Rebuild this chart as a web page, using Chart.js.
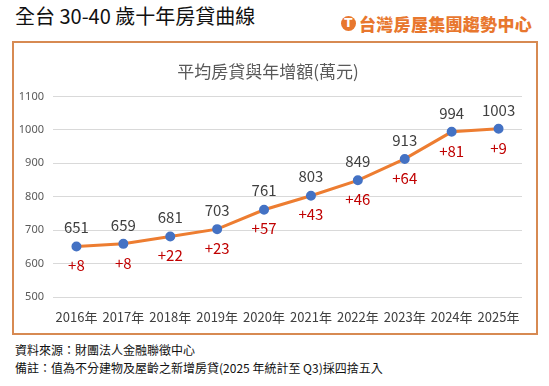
<!DOCTYPE html>
<html>
<head>
<meta charset="utf-8">
<script src="https://cdn.jsdelivr.net/npm/chart.js@4.4.1/dist/chart.umd.min.js"></script>
<style>
    body { margin: 0; background: #fff; font-family: "Noto Sans CJK TC", "Noto Sans", sans-serif; }
    .page { position: relative; width: 549px; height: 386px; overflow: hidden; }
    .title { position: absolute; left: 15px; top: 2px; font-size: 20px; color: #111; line-height: 28px; }
    .logo { position: absolute; left: 341px; top: 12px; height: 22px; display: flex; align-items: center; color: #E8772E; font-weight: 900; font-size: 17px; letter-spacing: 0.3px; }
    .logo .icon { width: 15px; height: 15px; border-radius: 50%; background: #E8772E; color: #fff; font-size: 12px; line-height: 15px; text-align: center; margin-right: 3px; font-family: "DejaVu Sans", sans-serif; font-weight: bold; }
    .box { position: absolute; left: 12px; top: 41px; width: 522px; height: 290px; border: 2px solid #D78A52; }
    .box canvas { display: block; }
    .footer { position: absolute; left: 15px; font-size: 12px; color: #111; }
</style>
</head>
<body>
<div class="page">
    <div class="title">全台 30-40 歲十年房貸曲線</div>
    <div class="logo"><span class="icon">T</span>台灣房屋集團趨勢中心</div>
    <div class="box"><canvas id="loanChart" width="522" height="290"></canvas></div>
    <div class="footer" style="top: 341px;">資料來源：財團法人金融聯徵中心</div>
    <div class="footer" style="top: 359px;">備註：值為不分建物及屋齡之新增房貸(2025 年統計至 Q3)採四捨五入</div>
</div>
<script>
// Chart data
const years = ['2016年', '2017年', '2018年', '2019年', '2020年', '2021年', '2022年', '2023年', '2024年', '2025年'];
const avgLoan = [651, 659, 681, 703, 761, 803, 849, 913, 994, 1003];
const yearGain = [8, 8, 22, 23, 57, 43, 46, 64, 81, 9];
const yTicks = [500, 600, 700, 800, 900, 1000, 1100];

const labelFont = '15px "Noto Sans CJK TC", "Noto Sans", sans-serif';

// Draws the loan value above each point and the yearly gain below it
const pointLabels = {
    id: 'pointLabels',
    afterDatasetsDraw(chart) {
        const ctx = chart.ctx;
        const meta = chart.getDatasetMeta(0);
        ctx.save();
        ctx.font = labelFont;
        ctx.textAlign = 'center';
        ctx.textBaseline = 'middle';
        meta.data.forEach((pt, i) => {
            ctx.fillStyle = '#404040';
            ctx.fillText(String(avgLoan[i]), pt.x, pt.y - 19);
            ctx.fillStyle = '#C00000';
            ctx.fillText('+' + yearGain[i], pt.x, pt.y + 19);
        });
        ctx.restore();
    }
};

new Chart(document.getElementById('loanChart'), {
    type: 'line',
    data: {
        labels: years,
        datasets: [{
            data: avgLoan,
            borderColor: '#ED7D31',
            borderWidth: 3,
            pointBackgroundColor: '#4472C4',
            pointBorderColor: '#4472C4',
            pointRadius: 3.5,
            tension: 0,
            fill: false
        }]
    },
    options: {
        responsive: false,
        animation: false,
        layout: { padding: { left: 0, right: 14, top: 0, bottom: 0 } },
        plugins: {
            legend: { display: false },
            tooltip: { enabled: false },
            title: {
                display: true,
                text: '平均房貸與年增額(萬元)',
                color: '#595959',
                font: { size: 17, weight: 'normal', family: '"Noto Sans CJK TC", sans-serif' },
                padding: { top: 18, bottom: 15 }
            }
        },
        scales: {
            x: {
                offset: true,
                grid: { display: false, drawTicks: false },
                border: { display: false },
                ticks: { color: '#404040', padding: 12, autoSkip: false, maxRotation: 0, font: { size: 13, family: '"Noto Sans CJK TC", sans-serif' } },
                afterFit(scale) { scale.height = 36; }
            },
            y: {
                min: 500,
                max: 1100,
                afterBuildTicks(scale) { scale.ticks = yTicks.map(v => ({ value: v })); },
                grid: { color: '#D9D9D9', drawTicks: false },
                border: { display: false },
                ticks: { color: '#595959', padding: 9, font: { size: 11, family: '"Noto Sans", sans-serif' }, callback: v => String(v) },
                afterFit(scale) { scale.width = 39; }
            }
        }
    },
    plugins: [pointLabels]
});
</script>
</body>
</html>
